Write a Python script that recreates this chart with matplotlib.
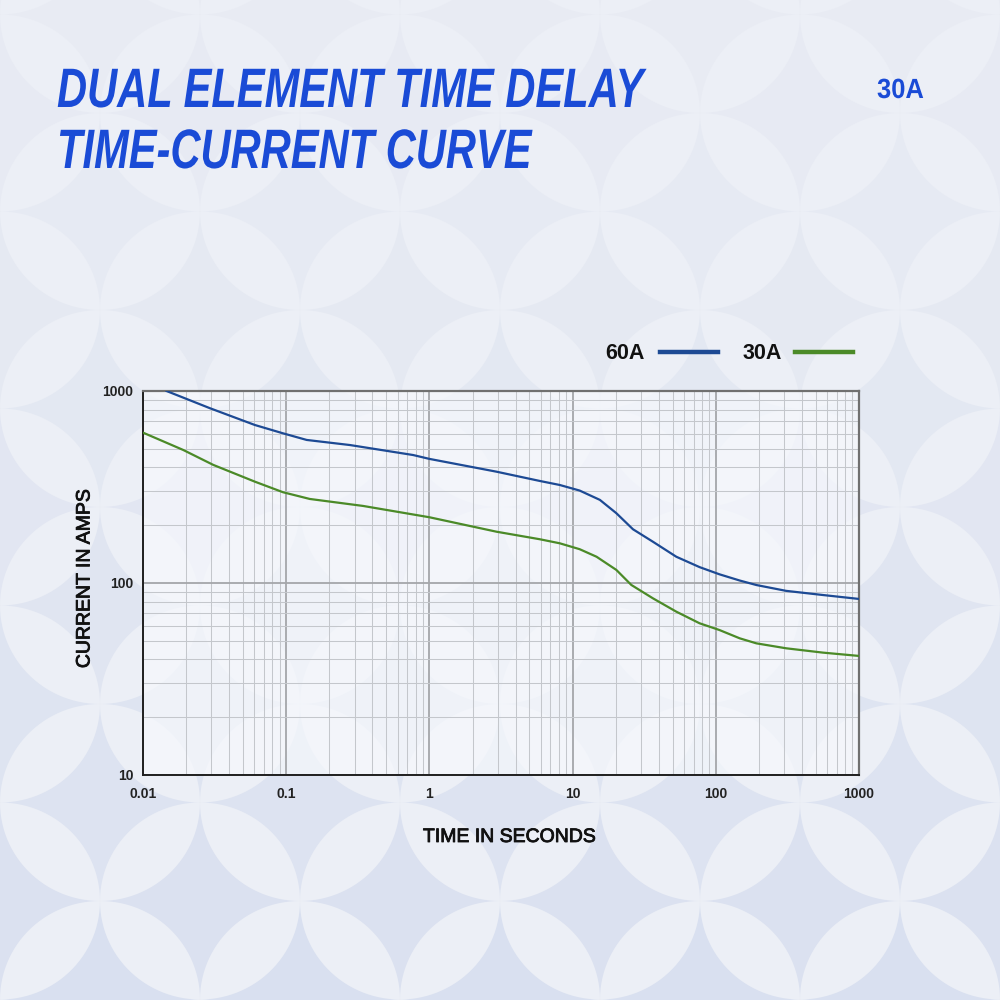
import numpy as np
import matplotlib
matplotlib.use('Agg')
import matplotlib.pyplot as plt
from matplotlib.patches import Polygon
from matplotlib.patheffects import AbstractPathEffect, withStroke
from matplotlib.transforms import Affine2D
from matplotlib.ticker import FixedLocator, LogLocator, NullFormatter

# data
time_60 = [0.0146, 0.0294, 0.0605, 0.095, 0.139, 0.279, 0.77, 1.0, 2.94, 5.9, 8.13, 11.2,
           15.5, 20.2, 26.4, 36.4, 53, 77, 106, 147, 192, 310, 558, 1000]
amps_60 = [1000, 813, 665, 602, 556, 523, 464, 443, 380, 340, 324, 303,
           271, 231, 190.5, 164, 137, 121, 111, 103, 97.6, 91, 86.6, 82.6]

time_30 = [0.01, 0.0191, 0.031, 0.0605, 0.095, 0.146, 0.344, 1.0, 2.94, 5.9, 8.13, 11.2,
           14.7, 20.2, 25.7, 36.4, 53, 77, 106, 147, 192, 310, 558, 1000]
amps_30 = [607, 493, 412, 337, 297, 274, 252, 220, 185, 169, 161, 150,
           137, 117, 97.7, 83.2, 70.9, 61.7, 56.9, 51.5, 48.5, 45.7, 43.4, 41.7]

x_ticks = [0.01, 0.1, 1, 10, 100, 1000]
x_labels = ['0.01', '0.1', '1', '10', '100', '1000']
y_ticks = [10, 100, 1000]
y_labels = ['10', '100', '1000']

BLUE = '#1d4a94'
GREEN = '#4b8a28'
TITLE_BLUE = '#1a4bd6'
FONT = 'Liberation Sans'


class Squeeze(AbstractPathEffect):
    # narrows glyphs horizontally, the text stays a normal Text artist
    def __init__(self, sx):
        super().__init__()
        self.sx = sx

    def draw_path(self, renderer, gc, tpath, affine, rgbFace=None):
        renderer.draw_path(gc, tpath, Affine2D().scale(self.sx, 1) + affine, rgbFace)


fig = plt.figure(figsize=(10, 10), dpi=100)
fig.patch.set_facecolor('#eceff6')

# background pattern of four-point stars between light petals
bg = fig.add_axes([0, 0, 1, 1], zorder=-5)
bg.set_xlim(0, 1000)
bg.set_ylim(1000, 0)
bg.axis('off')
th = np.linspace(-np.pi / 2, -np.pi, 30)
qx = 1 + np.cos(th)
qy = 1 + np.sin(th)
sx = np.concatenate([qx, -qx[::-1], -qx, qx[::-1]])
sy = np.concatenate([qy, qy[::-1], -qy, -qy[::-1]])
top_c = np.array([0xe8, 0xeb, 0xf3]) / 255
bot_c = np.array([0xd9, 0xe0, 0xf0]) / 255
for i in range(-2, 13):
    for j in range(-5, 10):
        if (i + j) % 2:
            continue
        cx = i * 100
        cy = 310 + j * 98.5
        f = min(max(cy / 1000, 0), 1) ** 1.3
        col = top_c * (1 - f) + bot_c * f
        bg.add_patch(Polygon(np.column_stack([cx + 100 * sx, cy + 98.5 * sy]),
                             closed=True, facecolor=col, edgecolor='none'))

ax = fig.add_axes([0.143, 0.225, 0.716, 0.384])
ax.set_facecolor((0.965, 0.972, 0.99, 0.72))
ax.set_xscale('log')
ax.set_yscale('log')
ax.set_xlim(0.01, 1000)
ax.set_ylim(10, 1000)

ax.plot(time_60, amps_60, color=BLUE, lw=1.6, zorder=3)
ax.plot(time_30, amps_30, color=GREEN, lw=1.6, zorder=3)

ax.xaxis.set_major_locator(FixedLocator(x_ticks))
ax.yaxis.set_major_locator(FixedLocator(y_ticks))
ax.set_xticklabels(x_labels)
ax.set_yticklabels(y_labels)
ax.xaxis.set_minor_locator(LogLocator(base=10, subs=np.arange(2, 10), numticks=20))
ax.yaxis.set_minor_locator(LogLocator(base=10, subs=np.arange(2, 10), numticks=20))
ax.xaxis.set_minor_formatter(NullFormatter())
ax.yaxis.set_minor_formatter(NullFormatter())
ax.grid(which='major', color='#a4a6aa', lw=1.3, zorder=1)
ax.grid(which='minor', color='#c4c7cc', lw=0.75, zorder=1)
ax.tick_params(which='both', length=0)
ax.tick_params(axis='x', pad=9)
ax.tick_params(axis='y', pad=7)
for lab in ax.get_xticklabels() + ax.get_yticklabels():
    lab.set_fontfamily(FONT)
    lab.set_fontsize(10)
    lab.set_fontweight('bold')
    lab.set_color('#222222')
for side in ['top', 'right']:
    ax.spines[side].set_color('#707070')
    ax.spines[side].set_linewidth(1.6)
for side in ['left', 'bottom']:
    ax.spines[side].set_color('#202020')
    ax.spines[side].set_linewidth(1.4)

# axis titles, a thin stroke gives them the medium weight of the original
heavier = [withStroke(linewidth=0.6, foreground='#111111')]
fig.text(0.5095, 0.158, 'TIME IN SECONDS', fontfamily=FONT, fontsize=14,
         color='#111111', ha='center', va='baseline', path_effects=heavier)
fig.text(0.085, 0.4215, 'CURRENT IN AMPS', fontfamily=FONT, fontsize=14,
         color='#111111', ha='center', va='center', rotation=90, path_effects=heavier)

# title block
squeeze = [Squeeze(0.75)]
fig.text(0.057, 0.893, 'DUAL ELEMENT TIME DELAY', fontfamily=FONT, fontsize=40,
         fontweight='bold', fontstyle='italic', color=TITLE_BLUE, va='baseline',
         path_effects=squeeze)
fig.text(0.057, 0.832, 'TIME-CURRENT CURVE', fontfamily=FONT, fontsize=40,
         fontweight='bold', fontstyle='italic', color=TITLE_BLUE, va='baseline',
         path_effects=squeeze)
fig.text(0.877, 0.902, '30A', fontfamily=FONT, fontsize=20, fontweight='bold',
         color=TITLE_BLUE, va='baseline', path_effects=[Squeeze(0.92)])

# legend drawn by hand above the plot
fig.text(0.605, 0.641, '60A', fontfamily=FONT, fontsize=15.5, fontweight='bold',
         color='#111111', va='baseline')
fig.lines.append(plt.Line2D([0.660, 0.718], [0.648, 0.648], transform=fig.transFigure,
                            color=BLUE, lw=3.2))
fig.text(0.743, 0.641, '30A', fontfamily=FONT, fontsize=15.5, fontweight='bold',
         color='#111111', va='baseline')
fig.lines.append(plt.Line2D([0.795, 0.853], [0.648, 0.648], transform=fig.transFigure,
                            color=GREEN, lw=3.2))

fig.savefig('out.png', dpi=100, facecolor=fig.get_facecolor())
